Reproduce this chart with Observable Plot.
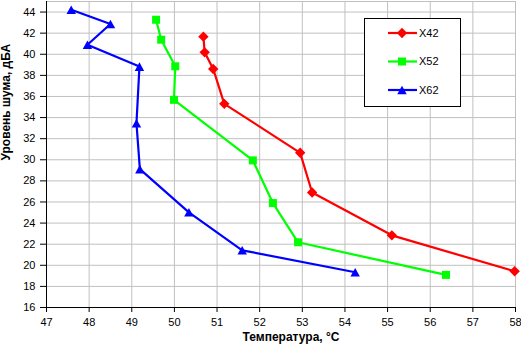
<!DOCTYPE html>
<html><head><meta charset="utf-8">
<script src="https://cdn.jsdelivr.net/npm/d3@7"></script>
<script src="https://cdn.jsdelivr.net/npm/@observablehq/plot@0.6"></script>
<style>
body{margin:0;background:#fff;font-family:"Liberation Sans",Arial,sans-serif}
#chart{position:relative;width:521px;height:352px}
</style>
</head><body><div id="chart"></div>
<script>
const seriesNames = ["X42", "X52", "X62"];
const seriesColors = ["#ff0000", "#00ff00", "#0000ff"];
const x42Temp  = [50.68, 50.71, 50.91, 51.17, 52.95, 53.23, 55.10, 57.98];
const x42Noise = [41.67, 40.18, 38.61, 35.30, 30.66, 26.90, 22.84, 19.43];
const x52Temp  = [49.57, 49.69, 50.02, 49.99, 51.84, 52.31, 52.90, 56.37];
const x52Noise = [43.27, 41.38, 38.86, 35.68, 29.94, 25.90, 22.18, 19.09];
const x62Temp  = [47.58, 48.50, 47.96, 49.18, 49.11, 49.19, 50.34, 51.59, 54.24];
const x62Noise = [44.22, 42.87, 40.90, 38.83, 33.46, 29.11, 25.02, 21.42, 19.34];
const xTicks = [47, 48, 49, 50, 51, 52, 53, 54, 55, 56, 57, 58];
const yTicks = [16, 18, 20, 22, 24, 26, 28, 30, 32, 34, 36, 38, 40, 42, 44];
const xTitle = "Температура, °C";
const yTitle = "Уровень шума, дБА";

const rOf = s => Math.sqrt(s / Math.PI);
const symDiamond = {draw(c, s){const r = rOf(s); c.moveTo(0,-r); c.lineTo(r,0); c.lineTo(0,r); c.lineTo(-r,0); c.closePath();}};
const symSquare = {draw(c, s){const r = rOf(s); c.rect(-r,-r,2*r,2*r);}};
const symTriangle = {draw(c, s){const r = rOf(s); c.moveTo(0,-r); c.lineTo(r*1.1,r); c.lineTo(-r*1.1,r); c.closePath();}};
const symbols = [symDiamond, symSquare, symTriangle];
const radii = [5.2, 4, 4.3];

const temps = [x42Temp, x52Temp, x62Temp];
const noises = [x42Noise, x52Noise, x62Noise];
const tables = seriesNames.map((n, i) => temps[i].map((t, j) => ({series: n, temp: t, noise: noises[i][j]})));

const marks = [
  Plot.gridX(xTicks, {stroke: "#c0c0c0", strokeOpacity: 1}),
  Plot.gridY(yTicks, {stroke: "#c0c0c0", strokeOpacity: 1}),
  Plot.frame({stroke: "#c0c0c0"}),
  Plot.axisX(xTicks, {tickSize: 5, tickPadding: 6, label: null, fontSize: 11}),
  Plot.axisY(yTicks, {tickSize: 6, tickPadding: 5, label: null, fontSize: 11}),
  Plot.ruleX([47], {stroke: "#000"}),
  Plot.ruleY([16], {stroke: "#000"})
];
tables.forEach((tab, i) => {
  marks.push(Plot.line(tab, {x: "temp", y: "noise", stroke: seriesColors[i], strokeWidth: 2.2, curve: "linear"}));
});
tables.forEach((tab, i) => {
  marks.push(Plot.dot(tab, {x: "temp", y: "noise", symbol: symbols[i], r: radii[i], fill: seriesColors[i], stroke: "none"}));
});
marks.push(Plot.text([xTitle], {frameAnchor: "bottom", dx: 10, dy: 33, fontWeight: "bold", fontSize: 12}));
marks.push(Plot.text([yTitle], {frameAnchor: "left", rotate: -90, dx: -40, dy: 6, fontWeight: "bold", fontSize: 12}));

const svg = Plot.plot({
  width: 521, height: 352,
  marginLeft: 46, marginRight: 6, marginTop: 1, marginBottom: 45,
  x: {domain: [47, 58]},
  y: {domain: [16, 45]},
  style: {fontFamily: '"Liberation Sans", Arial, sans-serif', fontSize: "11px", color: "#000", background: "#fff"},
  marks
});

// legend
const leg = d3.select(svg).append("g");
leg.append("rect").attr("x", 364.5).attr("y", 18.5).attr("width", 96).attr("height", 88)
  .attr("fill", "#fff").attr("stroke", "#000").attr("stroke-width", 1);
const legY = [33, 61.5, 90];
seriesNames.forEach((n, i) => {
  const g = leg.append("g").attr("transform", `translate(0,${legY[i]})`);
  g.append("line").attr("x1", 388).attr("x2", 417).attr("y1", 0).attr("y2", 0)
    .attr("stroke", seriesColors[i]).attr("stroke-width", 2.2);
  g.append("path").attr("transform", "translate(402,0)")
    .attr("d", d3.symbol(symbols[i], radii[i] * radii[i] * Math.PI)())
    .attr("fill", seriesColors[i]);
  g.append("text").attr("x", 419).attr("y", 0).attr("dy", "0.35em")
    .attr("text-anchor", "start").attr("font-size", 11).attr("fill", "#000").text(n);
});

document.getElementById("chart").appendChild(svg);
</script>
</body></html>
